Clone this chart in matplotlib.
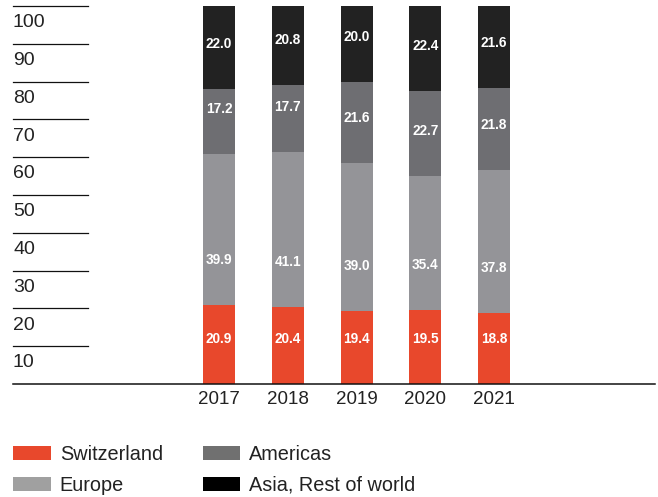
import matplotlib.pyplot as plt
import numpy as np
from matplotlib.patches import Patch

plt.rcParams['font.family'] = ['Liberation Sans', 'DejaVu Sans']

years = ['2017', '2018', '2019', '2020', '2021']
regions = ['Switzerland', 'Europe', 'Americas', 'Asia, Rest of world']
switzerland = [20.9, 20.4, 19.4, 19.5, 18.8]
europe = [39.9, 41.1, 39.0, 35.4, 37.8]
americas = [17.2, 17.7, 21.6, 22.7, 21.8]
asia_row = [22.0, 20.8, 20.0, 22.4, 21.6]
y_ticks = [10, 20, 30, 40, 50, 60, 70, 80, 90, 100]

bar_colors = ['#e8482c', '#949498', '#6e6e72', '#222222']
legend_colors = ['#e8482c', '#a0a0a0', '#707070', '#000000']

W, H = 658, 497
fig = plt.figure(figsize=(W / 100, H / 100), dpi=100)
# axes spans the full width; y from baseline (px 384) to top (px 6)
ax = fig.add_axes([0, (H - 384) / H, 1, (384 - 6) / H])
ax.set_axis_off()

step = 68.75
x0 = 219
ax.set_xlim(-x0 / step, (W - x0) / step)
ax.set_ylim(0, 100)

x = np.arange(len(years))
bottom = np.zeros(len(years))
for vals, col in zip([switzerland, europe, americas, asia_row], bar_colors):
    ax.bar(x, vals, width=32 / step, bottom=bottom, color=col, linewidth=0)
    for xi, b, v in zip(x, bottom, vals):
        ax.text(xi, b + 11.9, f'{v:.1f}', color='white', fontsize=9.8,
                fontweight='bold', ha='center', va='center')
    bottom += np.array(vals)

# short gridlines at the left with labels beneath them
tr = ax.get_yaxis_transform()
for v in y_ticks:
    ax.plot([13 / W, 88 / W], [v, v], color='#111111', lw=0.9, transform=tr,
            clip_on=False)
    ax.text(13 / W, v - 4.4, str(v), transform=tr, fontsize=14, color='#222222',
            ha='left', va='center')
ax.plot([13 / W, 655 / W], [0, 0], color='#111111', lw=1.1, transform=tr,
        clip_on=False)

for xi, yr in zip(x, years):
    ax.text(xi, -4.2, yr, fontsize=13.5, color='#222222', ha='center',
            va='center', clip_on=False)

handles = [Patch(facecolor=c, edgecolor='none') for c in legend_colors]
fig.legend(handles, regions, ncol=2, loc='upper left',
           bbox_to_anchor=(13 / W, (H - 445) / H), frameon=False,
           borderpad=0, borderaxespad=0, fontsize=14.3, handlelength=1.9,
           handleheight=0.75, handletextpad=0.45, columnspacing=2.0,
           labelspacing=0.6, labelcolor='#222222')

fig.savefig('out.png', dpi=100)
